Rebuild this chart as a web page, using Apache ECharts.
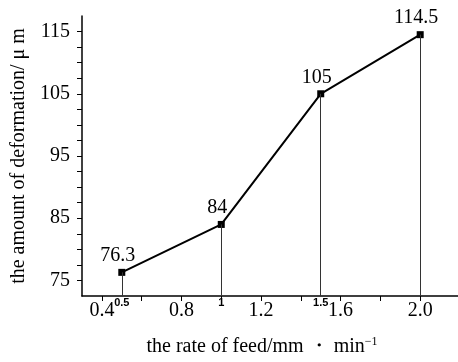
<!DOCTYPE html>
<html>
<head>
<meta charset="utf-8">
<script src="https://cdn.jsdelivr.net/npm/echarts@6/dist/echarts.min.js"></script>
<style>
  html, body { margin: 0; padding: 0; background: #fff; }
  #chart { width: 458px; height: 362px; }
</style>
</head>
<body>
<div id="chart"></div>
<script>
// feed rate (mm/min) vs deformation (um)
const feedRates = [0.5, 1.0, 1.5, 2.0];
const deformation = [76.3, 84, 105, 114.5];
const dropLabels = ['0.5', '1', '1.5', ''];

const xTickLabels = [0.4, 0.8, 1.2, 1.6, 2.0];
const xTicks = [0.4, 0.6, 0.8, 1.0, 1.2, 1.4, 1.6, 1.8, 2.0];
const yTickLabels = [75, 85, 95, 105, 115];
const yTicks = [75, 77.5, 80, 82.5, 85, 87.5, 90, 92.5, 95, 97.5, 100, 102.5, 105, 107.5, 110, 112.5, 115];

const X_MIN = 0.3, X_MAX = 2.19;
const Y_MIN = 72.5, Y_MAX = 117.5;
const SERIF = '"Liberation Serif", "Times New Roman", serif';

const chart = echarts.init(document.getElementById('chart'));
chart.setOption({
  animation: false,
  backgroundColor: '#fff',
  grid: { left: 82, right: 0, top: 16, bottom: 64 },
  xAxis: {
    type: 'value',
    min: X_MIN,
    max: X_MAX,
    name: '{a|the rate of feed/mm ・ min}{sup|−1}',
    nameLocation: 'middle',
    nameGap: 40,
    nameTextStyle: {
      padding: [0, 16, 0, 0],
      rich: {
        a: { fontFamily: SERIF, fontSize: 20, color: '#000' },
        sup: { fontFamily: SERIF, fontSize: 12, color: '#000', verticalAlign: 'top', padding: [0, 0, 10, 0] }
      }
    },
    axisLine: { lineStyle: { color: '#000', width: 1.5 } },
    axisTick: { show: true, customValues: xTicks, length: 5, lineStyle: { color: '#000' } },
    axisLabel: {
      customValues: xTickLabels,
      formatter: (v) => v.toFixed(1),
      fontFamily: SERIF,
      fontSize: 20,
      color: '#000',
      margin: 5
    },
    splitLine: { show: false }
  },
  yAxis: {
    type: 'value',
    min: Y_MIN,
    max: Y_MAX,
    name: 'the amount of deformation/ μ m',
    nameLocation: 'middle',
    nameGap: 52,
    nameTextStyle: { fontFamily: SERIF, fontSize: 20, color: '#000' },
    axisLine: { show: true, lineStyle: { color: '#000', width: 1.5 } },
    axisTick: { show: true, customValues: yTicks, length: 5, lineStyle: { color: '#000' } },
    axisLabel: {
      customValues: yTickLabels,
      fontFamily: SERIF,
      fontSize: 20,
      color: '#000',
      margin: 12
    },
    splitLine: { show: false }
  },
  series: [{
    type: 'line',
    data: feedRates.map((x, i) => [x, deformation[i]]),
    symbol: 'rect',
    symbolSize: 7,
    lineStyle: { color: '#000', width: 2 },
    itemStyle: { color: '#000' },
    label: {
      show: true,
      position: 'top',
      distance: 3,
      offset: [-4, 0],
      formatter: (p) => String(p.value[1]),
      fontFamily: SERIF,
      fontSize: 20,
      color: '#000'
    },
    markLine: {
      silent: true,
      symbol: 'none',
      animation: false,
      lineStyle: { color: '#333', width: 1, type: 'solid' },
      label: {
        show: true,
        position: 'start',
        distance: 1,
        formatter: '{b}',
        fontFamily: '"Liberation Sans", Arial, sans-serif',
        fontWeight: 'bold',
        fontSize: 11,
        color: '#000'
      },
      data: feedRates.map((x, i) => [
        { coord: [x, Y_MIN], name: dropLabels[i] },
        { coord: [x, deformation[i]] }
      ])
    }
  }]
});
</script>
</body>
</html>
